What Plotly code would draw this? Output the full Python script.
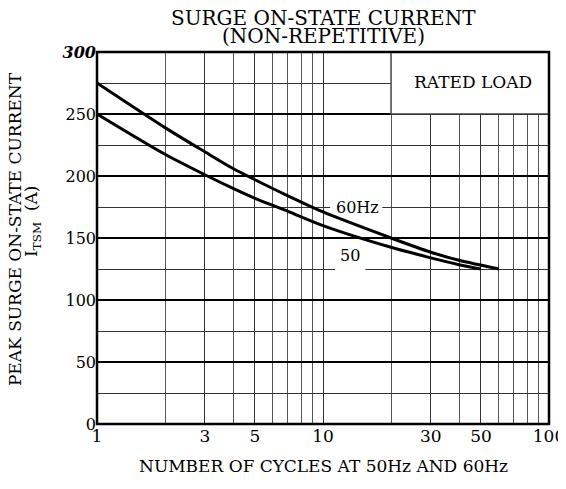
import plotly.graph_objects as go

# Data
cycles_60 = [1, 2, 3, 4, 5, 7, 10, 20, 30, 40, 60]
current_60 = [275, 239, 219.5, 206, 197, 184, 171, 150, 138.5, 132, 125]
cycles_50 = [1, 2, 3, 4, 5, 7, 10, 20, 30, 40, 50]
current_50 = [250, 217.5, 201, 190, 182, 171.5, 160, 142.5, 134, 128.5, 125]

x_tick_vals = [1, 3, 5, 10, 30, 50, 100]
x_tick_text = ["1", "3", "5", "10", "30", "50", "100"]
x_minor_vals = [2, 4, 6, 7, 8, 9, 20, 40, 60, 70, 80, 90]
y_tick_vals = [0, 50, 100, 150, 200, 250, 300]
y_tick_text = ["0", "50", "100", "150", "200", "250", "<b><i>300</i></b>"]

FONT = "DejaVu Serif"

fig = go.Figure()
fig.add_trace(go.Scatter(x=cycles_60, y=current_60, mode="lines",
                         line=dict(color="black", width=3, shape="spline", smoothing=0.8),
                         showlegend=False, hoverinfo="skip"))
fig.add_trace(go.Scatter(x=cycles_50, y=current_50, mode="lines",
                         line=dict(color="black", width=3, shape="spline", smoothing=0.8),
                         showlegend=False, hoverinfo="skip"))

# page body has an 8px margin, so the figure is 8px smaller and margins shifted
fig.update_layout(
    width=558, height=481,
    margin=dict(l=89, r=17, t=44, b=65, autoexpand=False),
    paper_bgcolor="white", plot_bgcolor="white",
    font=dict(family=FONT, color="black", size=15),
    xaxis=dict(type="log", range=[0, 2], automargin=False,
               tickmode="array", tickvals=x_tick_vals, ticktext=x_tick_text,
               showgrid=True, gridcolor="#333333", gridwidth=1.2,
               minor=dict(tickmode="array", tickvals=x_minor_vals, showgrid=True,
                          gridcolor="#555555", gridwidth=1.2, ticks=""),
               ticks="", showline=False, zeroline=False,
               tickfont=dict(family=FONT, size=17)),
    yaxis=dict(range=[0, 300], automargin=False,
               tickmode="array", tickvals=y_tick_vals, ticktext=y_tick_text,
               showgrid=True, gridcolor="black", gridwidth=2,
               minor=dict(dtick=25, showgrid=True, gridcolor="#333333", gridwidth=1, ticks=""),
               ticks="", showline=False, zeroline=False,
               tickfont=dict(family=FONT, size=16)),
)

# White gaps in grid lines behind the curve labels (under the curves)
fig.add_shape(type="rect", xref="x", yref="y", x0=10.75, x1=18.3, y0=172, y1=178,
              fillcolor="white", line=dict(width=0), layer="between")
fig.add_shape(type="rect", xref="x", yref="y", x0=11.3, x1=15.4, y0=122.5, y1=127.5,
              fillcolor="white", line=dict(width=0), layer="between")

# Rated load box masking the grid
fig.add_shape(type="rect", xref="x", yref="y", x0=20, x1=100, y0=250, y1=300,
              fillcolor="white", line=dict(color="#444444", width=1.5), layer="above")
# Frame
fig.add_shape(type="rect", xref="paper", yref="paper", x0=0, x1=1, y0=0, y1=1,
              line=dict(color="black", width=2.5), layer="above")

# Title (two lines)
fig.add_annotation(xref="paper", yref="paper", x=0.5, y=1.0914, yanchor="middle",
                   text="SURGE ON-STATE CURRENT", showarrow=False,
                   font=dict(family=FONT, size=20))
fig.add_annotation(xref="paper", yref="paper", x=0.5, y=1.043, yanchor="middle",
                   text="(NON-REPETITIVE)", showarrow=False,
                   font=dict(family=FONT, size=20))

# Axis titles
fig.add_annotation(xref="paper", yref="paper", x=0.5, y=-0.113, yanchor="middle",
                   text="NUMBER OF CYCLES AT 50Hz AND 60Hz", showarrow=False,
                   font=dict(family=FONT, size=17))
fig.add_annotation(xref="paper", yref="paper", x=-0.1814, y=0.524,
                   xanchor="center", yanchor="middle", textangle=-90,
                   text="PEAK SURGE ON-STATE CURRENT",
                   showarrow=False, font=dict(family=FONT, size=17))
fig.add_annotation(xref="paper", yref="paper", x=-0.1416, y=0.546,
                   xanchor="center", yanchor="middle", textangle=-90,
                   text="I<sub>TSM</sub>  (A)",
                   showarrow=False, font=dict(family=FONT, size=17))

fig.add_annotation(x=1.665, y=276, xref="x", yref="y", text="RATED LOAD",
                   showarrow=False, font=dict(family=FONT, size=17))
fig.add_annotation(x=1.152, y=175, xref="x", yref="y", text="60Hz",
                   showarrow=False, font=dict(family=FONT, size=16))
fig.add_annotation(x=1.121, y=136, xref="x", yref="y", text="50",
                   showarrow=False, font=dict(family=FONT, size=16))

fig.write_html("out.html")
